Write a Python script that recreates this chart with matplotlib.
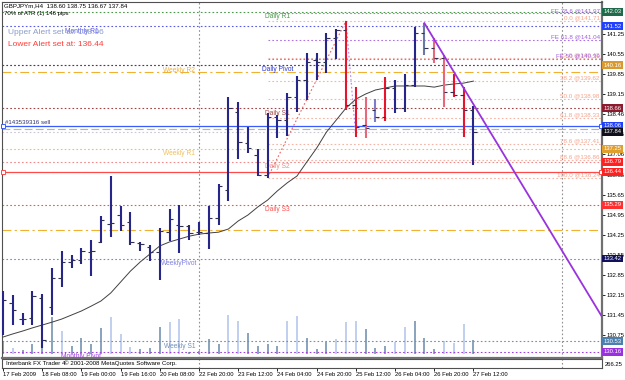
import numpy as np
import matplotlib.pyplot as plt

plt.rcParams['font.family'] = ['Liberation Sans', 'DejaVu Sans']

# GBPJPYm H4 bars (index 0 = 17 Feb 16:00)
opens = [131.80, 131.87, 131.31, 131.34, 132.04, 131.73, 132.74, 133.30, 133.37, 133.65,
         133.99, 134.62, 134.94, 134.69, 133.96, 133.82, 133.65, 134.34, 134.59, 134.55,
         134.34, 134.31, 134.83, 135.81, 138.53, 137.45, 137.03, 136.33, 138.36, 138.25,
         139.05, 139.65, 140.34, 140.27, 141.11, 141.39, 138.77, 138.08, 138.60, 138.36,
         139.37, 138.67, 139.47, 141.29, 140.76, 140.41, 139.23, 139.12, 138.60]
highs = [132.29, 132.15, 131.52, 132.29, 132.18, 133.09, 133.68, 133.54, 133.79, 134.06,
         134.90, 136.30, 135.25, 135.04, 133.99, 133.89, 134.48, 135.15, 135.29, 134.59,
         134.69, 135.25, 136.02, 139.05, 138.88, 138.01, 137.24, 138.49, 138.42, 139.19,
         139.79, 140.59, 140.59, 141.29, 141.42, 141.71, 139.40, 139.05, 138.98, 139.75,
         139.65, 139.86, 141.49, 141.63, 141.11, 140.52, 139.86, 139.40, 138.75]
lows = [130.75, 131.10, 131.10, 131.10, 130.30, 131.45, 132.43, 133.09, 133.23, 132.81,
        133.96, 134.17, 134.38, 133.89, 133.68, 133.33, 132.67, 134.03, 133.61, 134.06,
        134.24, 133.75, 134.59, 135.42, 136.89, 137.10, 136.30, 136.24, 137.62, 137.69,
        138.53, 138.95, 139.65, 139.89, 140.38, 138.60, 137.66, 137.62, 138.18, 138.22,
        138.49, 138.53, 139.40, 140.52, 140.24, 138.70, 139.05, 137.66, 136.67]
closes = [131.97, 131.62, 131.31, 132.11, 130.58, 132.74, 133.30, 133.37, 133.68, 133.68,
          134.76, 134.66, 134.59, 133.99, 133.93, 133.65, 134.38, 134.80, 134.55, 134.31,
          134.34, 134.83, 135.95, 138.67, 137.48, 137.27, 136.33, 138.36, 138.25, 139.05,
          139.65, 140.27, 140.27, 141.11, 141.39, 138.77, 138.01, 137.97, 138.36, 139.37,
          138.67, 139.47, 141.29, 140.76, 140.41, 139.23, 139.12, 138.60, 137.84]
bar_kind = "nnnnnnnnnnnnnnnnnnnnnnnnnnnnnnnnnnnrrplrnnngpprr"

ma = [130.68, 130.79, 130.89, 131.00, 131.10, 131.20, 131.31, 131.45, 131.59, 131.76,
      131.94, 132.22, 132.60, 132.98, 133.30, 133.58, 133.86, 134.00, 134.10, 134.20,
      134.27, 134.31, 134.34, 134.45, 134.73, 134.94, 135.22, 135.46, 135.78, 136.06,
      136.30, 136.79, 137.27, 137.83, 138.25, 138.67, 138.98, 139.16, 139.30, 139.37,
      139.44, 139.44, 139.44, 139.44, 139.40, 139.47, 139.51, 139.54, 139.61]

volumes = [650, 300, 200, 500, 900, 1850, 1150, 400, 800, 500,
           1300, 1850, 1000, 350, 250, 300, 1350, 1600, 1750, 100,
           150, 750, 500, 1950, 1650, 1050, 400, 500, 400, 1650,
           1900, 800, 250, 600, 750, 1600, 1650, 1250, 300, 400,
           600, 1350, 1650, 800, 250, 650, 550, 1500, 700]
vol_light = [0, 1, 0, 0, 0, 0, 1, 0, 0, 0, 0, 1, 1, 1, 0, 0, 0, 1, 1, 0,
             0, 0, 0, 1, 1, 0, 0, 0, 0, 1, 1, 0, 0, 0, 1, 1, 1, 0, 0, 0,
             1, 1, 0, 0, 0, 1, 1, 1, 0]

tick_bars = [0, 4, 8, 12, 16, 20, 24, 28, 32, 36, 40, 44, 48]
tick_labels = ['17 Feb 2009', '18 Feb 08:00', '19 Feb 00:00', '19 Feb 16:00', '20 Feb 08:00',
               '22 Feb 20:00', '23 Feb 12:00', '24 Feb 04:00', '24 Feb 20:00', '25 Feb 12:00',
               '26 Feb 04:00', '26 Feb 20:00', '27 Feb 12:00']
separators = [20, 57]

price_ticks = [141.25, 140.55, 139.85, 139.15, 138.46, 137.75, 137.06, 136.35,
               135.65, 134.95, 134.25, 133.55, 132.85, 132.15, 131.45, 130.75]

# pivot levels
piv_names = ['Daily R1', 'Monthly R1', 'Weekly R2', 'Daily Pivot', 'Daily S1', 'Weekly R1',
             'Daily S2', 'Daily S3', 'WeeklyPivot', 'Weekly S1', 'Monthly Pivot']
piv_prices = [142.03, 141.52, 140.16, 140.17, 138.66, 137.25, 136.79, 135.29, 133.42, 130.53, 130.16]
piv_label_bar = [28, 8, 18, 28, 28, 18, 28, 28, 18, 18, 8]
piv_colors = ['#4a9a4a', '#5a5ae8', '#f0b040', '#2a36d0', '#a04444', '#f0c060',
              '#f08a8a', '#ff5050', '#8080e0', '#7090b8', '#a040e0']

# other full-width lines
extra_prices = [139.92, 134.41, 137.93, 137.84]
extra_colors = ['#f0b030', '#f0b030', '#a8b6d6', '#c8c8d4']
extra_styles = [(0, (8, 3, 2, 3)), (0, (8, 3, 2, 3)), (0, (7, 3)), (0, (1.5, 2))]

# alerts
upper_alert = 138.06
lower_alert = 136.44

# fibonacci retracement (bar 27 low -> bar 35 high) and expansion
fib_bars = [27, 35]
fib_prices_anchor = [136.24, 141.71]
fib_pcts = ['0.0', '23.6', '38.2', '50.0', '61.8', '78.6', '88.6', '100.0']
fib_levels = [141.71, 140.42, 139.62, 138.98, 138.33, 137.41, 136.86, 136.24]
fe_bars = [35, 36]
fe_prices_anchor = [141.71, 137.66]
fe_pcts = ['78.6', '61.8', '50']
fe_levels = [141.97, 141.04, 140.39]

# down trend line
trend_bars = [43, 61.1]
trend_prices = [141.63, 131.40]

# coloured price boxes on the right scale
box_prices = [142.03, 141.52, 140.16, 138.66, 138.06, 137.84, 137.25, 136.79, 136.44,
              135.29, 133.42, 130.53, 130.16]
box_colors = ['#1f6a4a', '#2040ff', '#d89a30', '#8e1a30', '#2040ff', '#10101c', '#e0a030',
              '#ff2020', '#ff2020', '#ff3030', '#10105c', '#4a80b0', '#9a30e0']

W, H = 625, 380
SMALL = 4.2


def fx(px):
    return px / W


def fy(py):
    return 1 - py / H


fig = plt.figure(figsize=(W / 100, H / 100), dpi=100)
fig.patch.set_facecolor('white')

ax = fig.add_axes([fx(2), fy(358), fx(602) - fx(2), fy(2) - fy(358)])
xlim = (-0.1, 61.12)
ax.set_xlim(*xlim)
ax.set_ylim(129.95, 142.37)

# volumes underneath the price pane
vax = ax.twinx()
vax.set_ylim(-225, 17575)
vax.axis('off')
vcols = ['#aec2ea' if v else '#6a8aac' for v in vol_light]
idx = np.arange(len(opens))
vax.vlines(idx, 0, volumes, colors=vcols, lw=1.1)
ax.set_zorder(vax.get_zorder() + 1)
ax.patch.set_visible(False)

dot = (0, (1.5, 2))
for p, c, s in zip(extra_prices, extra_colors, extra_styles):
    ax.axhline(p, color=c, ls=s, lw=0.8, zorder=1)
for p, c in zip(piv_prices, piv_colors):
    ax.axhline(p, color=c, ls=dot, lw=0.8, zorder=1)
for name, p, b, c in zip(piv_names, piv_prices, piv_label_bar, piv_colors):
    ax.text(b, p - 0.05, name, color=c, fontsize=4.8, ha='center', va='top', zorder=2)

ax.axhline(upper_alert, color='#3a5cff', lw=0.9, zorder=2)
ax.axhline(lower_alert, color='#ff4a4a', lw=0.9, zorder=2)
for p, c in [(upper_alert, '#3a5cff'), (lower_alert, '#ff4a4a')]:
    ax.plot([xlim[0] + 0.12, xlim[1] - 0.15], [p, p], ls='none', marker='s', ms=2.6,
            mfc='white', mec=c, mew=0.7, zorder=3, clip_on=False)
ax.text(0.2, upper_alert + 0.02, '#143539316 sell', fontsize=4.4, color='#303070',
        va='bottom', ha='left')

# fib retracement
ax.hlines(fib_levels, fib_bars[0], xlim[1], colors='#f6b4a4', linestyles=[dot], lw=0.8, zorder=1)
ax.plot(fib_bars, fib_prices_anchor, color='#f06060', ls=dot, lw=0.8, zorder=2)
for pct, p in zip(fib_pcts, fib_levels):
    ax.text(60.9, p + 0.02, f'{pct} @{p:.2f}', color='#f4a48c', fontsize=4.5,
            ha='right', va='bottom', zorder=2)
# fib expansion
ax.hlines(fe_levels, fib_bars[0], xlim[1], colors='#b070e8', linestyles=[dot], lw=0.8, zorder=1)
ax.plot(fe_bars, fe_prices_anchor, color='#b080f0', ls=dot, lw=0.8, zorder=2)
for pct, p in zip(fe_pcts, fe_levels):
    ax.text(60.9, p + 0.02, f'FE {pct} @{p:.2f}', color='#a060e0', fontsize=4.5,
            ha='right', va='bottom', zorder=2)

# week separators
for b in separators:
    ax.axvline(b, color='#909090', ls=dot, lw=0.8, zorder=1)

# moving average
ax.plot(idx, ma, color='#404040', lw=0.7, zorder=4)

# OHLC bars
kind_col = {'n': '#26268a', 'r': '#e8142c', 'p': '#e8687a', 'l': '#7c7cc8', 'g': '#6a78a8'}
cols = [kind_col[k] for k in bar_kind]
ax.vlines(idx, lows, highs, colors=cols, lw=1.5, zorder=5)
ax.hlines(opens, idx - 0.34, idx, colors='#303050', lw=0.8, zorder=5)
ax.hlines(closes, idx, idx + 0.34, colors='#303050', lw=0.8, zorder=5)

# trend line
ax.plot(trend_bars, trend_prices, color='#9933dd', lw=1.3, zorder=6)

# frame and price scale
for s in ax.spines.values():
    s.set_color('#505050')
    s.set_linewidth(0.8)
ax.spines['right'].set_linewidth(1.6)
ax.spines['right'].set_color('#707070')
ax.spines['bottom'].set_linewidth(1.6)
ax.spines['bottom'].set_color('#707070')
ax.set_xticks([])
ax.yaxis.tick_right()
ax.set_yticks(price_ticks)
ax.set_yticklabels([f'{t:.2f}' for t in price_ticks])
ax.tick_params(axis='y', length=2, width=0.6, pad=1.0, labelsize=SMALL, colors='black')

for p, c in zip(box_prices, box_colors):
    ax.text(1.003, p, f'{p:.2f}', transform=ax.get_yaxis_transform(), ha='left', va='center',
            fontsize=SMALL, color='white', zorder=10, clip_on=False,
            bbox=dict(boxstyle='square,pad=0.25', fc=c, ec='none'))

# header texts
fig.text(fx(4), fy(6), 'GBPJPYm,H4  138.60 138.75 136.67 137.84', fontsize=4.4, va='center')
fig.text(fx(4), fy(14), '70% of ATR (1) 146 pips', fontsize=4.3, va='center')
fig.text(fx(8), fy(33), 'Upper Alert set at: 138.06', fontsize=6.0, va='center', color='#8a9cc8')
fig.text(fx(8), fy(44), 'Lower Alert set at: 136.44', fontsize=6.0, va='center', color='#ff3c3c')

# status strip + time axis
sub = fig.add_axes([fx(2), fy(368), fx(602) - fx(2), fy(359) - fy(368)])
sub.set_xlim(*xlim)
sub.set_ylim(0, 1)
sub.set_yticks([])
sub.set_xticks(tick_bars)
sub.set_xticklabels(tick_labels, ha='left', fontsize=SMALL)
sub.tick_params(axis='x', length=2, width=0.6, pad=1.2)
for s in sub.spines.values():
    s.set_color('#505050')
    s.set_linewidth(0.8)
sub.text(0.3, 0.5, 'Interbank FX Trader 4', fontsize=4.4, va='center')
sub.text(6.2, 0.5, '\u00a9 2001-2008 MetaQuotes Software Corp.', fontsize=4.4, va='center')
for b in separators:
    sub.axvline(b, color='#909090', ls=dot, lw=0.8)
fig.text(fx(605), fy(365), '266.25', fontsize=SMALL, va='center')

fig.savefig('out.png', dpi=100)
